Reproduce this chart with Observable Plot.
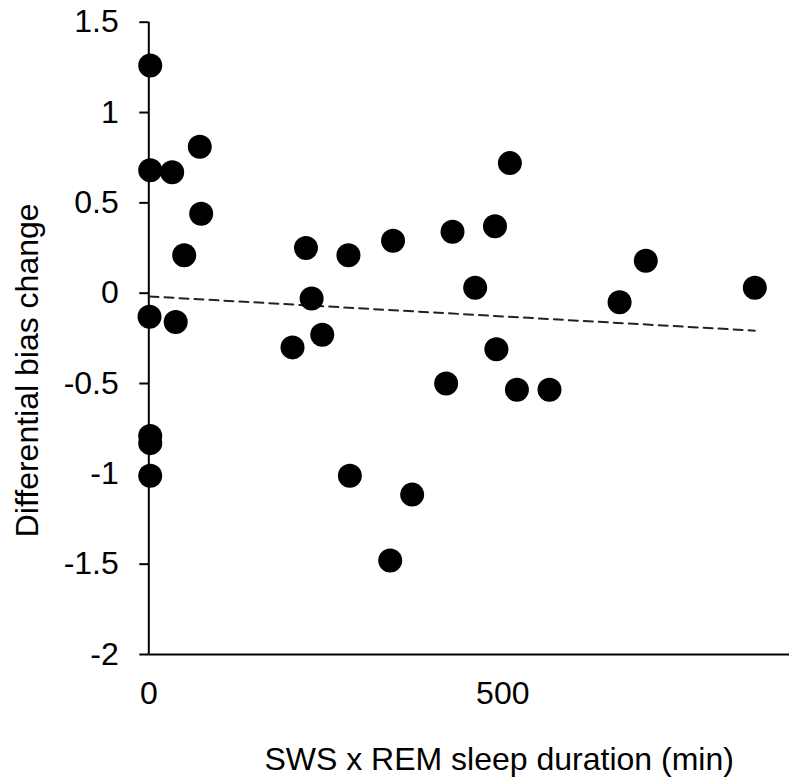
<!DOCTYPE html>
<html><head><meta charset="utf-8">
<script src="https://cdn.jsdelivr.net/npm/d3@7"></script>
<script src="https://cdn.jsdelivr.net/npm/@observablehq/plot@0.6"></script>
<style>body{margin:0;background:#fff}</style>
</head><body><div id="chart"></div>
<script>
const duration = [2, 2, 33, 72, 74, 50, 1, 38, 2, 2, 2,
  510, 222, 282, 345, 429, 489, 461, 230, 245, 203, 491, 420, 520, 566, 702, 665, 856, 284, 372, 341];
const biasChange = [1.26, 0.68, 0.67, 0.81, 0.44, 0.21, -0.13, -0.16, -0.79, -0.83, -1.01,
  0.72, 0.25, 0.21, 0.29, 0.34, 0.37, 0.03, -0.03, -0.23, -0.30, -0.31, -0.50, -0.535, -0.535, 0.18, -0.05, 0.03, -1.01, -1.115, -1.48];
const xTicks = [0, 500];
const xTickLabels = ["0", "500"];
const yTicks = [1.5, 1, 0.5, 0, -0.5, -1, -1.5, -2];
const yTickLabels = ["1.5", "1", "0.5", "0", "-0.5", "-1", "-1.5", "-2"];
const xLabel = "SWS x REM sleep duration (min)";
const yLabel = "Differential bias change";
const xDomain = [0, 905];
const yDomain = [-2, 1.5];

const data = duration.map((x, i) => ({x, y: biasChange[i]}));
const fmt = (ticks, labels) => d => labels[ticks.indexOf(d)];

const chart = Plot.plot({
  width: 789,
  height: 778,
  marginLeft: 148.3,
  marginRight: 0,
  marginTop: 21.7,
  marginBottom: 124,
  style: {background: "#fff", fontSize: "32px", fontFamily: "'Liberation Sans', Arial, sans-serif", color: "#000"},
  x: {domain: xDomain},
  y: {domain: yDomain},
  marks: [
    Plot.axisY({ticks: yTicks, tickFormat: fmt(yTicks, yTickLabels), tickSize: 9, tickPadding: 21, strokeWidth: 2, label: null}),
    Plot.axisX({ticks: xTicks, tickFormat: fmt(xTicks, xTickLabels), tickSize: 0, tickPadding: 27, label: null}),
    Plot.ruleX([xDomain[0]], {y1: yDomain[0], y2: yDomain[1], stroke: "#000", strokeWidth: 2}),
    Plot.ruleY([yDomain[0]], {stroke: "#000", strokeWidth: 2}),
    Plot.linearRegressionY(data, {x: "x", y: "y", ci: 0, stroke: "#222", strokeWidth: 2, strokeDasharray: "9,6"}),
    Plot.dot(data, {x: "x", y: "y", r: 12, fill: "#000"}),
    Plot.text([xLabel], {text: d => d, frameAnchor: "bottom", textAnchor: "middle", lineAnchor: "top", dx: 30, dy: 93, fontSize: 32, fill: "#000"}),
    Plot.text([yLabel], {text: d => d, frameAnchor: "left", rotate: -90, textAnchor: "middle", lineAnchor: "bottom", dx: -111, dy: 32, fontSize: 32, fill: "#000"})
  ]
});
document.getElementById("chart").appendChild(chart);
</script>
</body></html>
